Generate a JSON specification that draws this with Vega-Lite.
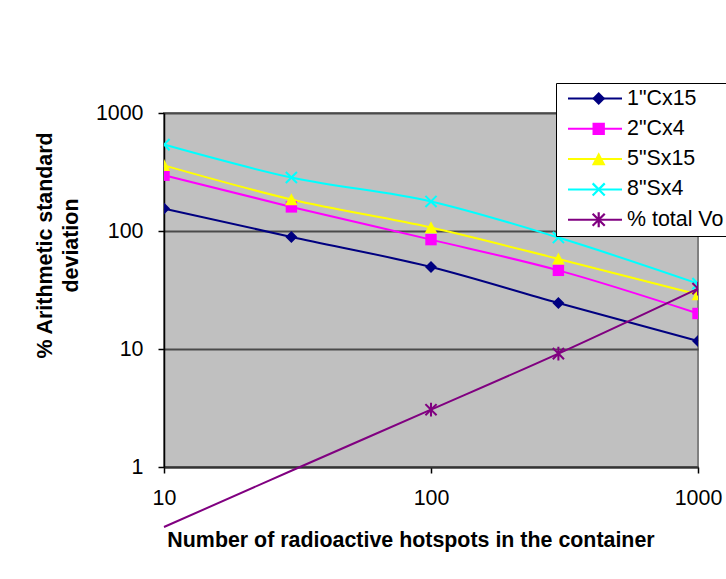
{
  "$schema": "https://vega.github.io/schema/vega-lite/v6.json",
  "width": 534,
  "height": 354,
  "autosize": "none",
  "padding": {"left": 164, "top": 113, "right": 28, "bottom": 112},
  "background": "white",
  "config": {
    "font": "Liberation Sans",
    "view": {"fill": "#C0C0C0", "stroke": "#808080", "strokeWidth": 2},
    "legend": {"strokeWidth": 1}
  },
  "data": {
    "values": [
      {"series": "1\"Cx15", "order": 1, "hotspots": 10, "value": 155},
      {"series": "1\"Cx15", "order": 1, "hotspots": 30, "value": 89},
      {"series": "1\"Cx15", "order": 1, "hotspots": 100, "value": 49.5},
      {"series": "1\"Cx15", "order": 1, "hotspots": 300, "value": 24.5},
      {"series": "1\"Cx15", "order": 1, "hotspots": 1000, "value": 11.7},
      {"series": "2\"Cx4", "order": 2, "hotspots": 10, "value": 297},
      {"series": "2\"Cx4", "order": 2, "hotspots": 30, "value": 160},
      {"series": "2\"Cx4", "order": 2, "hotspots": 100, "value": 84.5},
      {"series": "2\"Cx4", "order": 2, "hotspots": 300, "value": 46.4},
      {"series": "2\"Cx4", "order": 2, "hotspots": 1000, "value": 20},
      {"series": "5\"Sx15", "order": 3, "hotspots": 10, "value": 360},
      {"series": "5\"Sx15", "order": 3, "hotspots": 30, "value": 185},
      {"series": "5\"Sx15", "order": 3, "hotspots": 100, "value": 107},
      {"series": "5\"Sx15", "order": 3, "hotspots": 300, "value": 58},
      {"series": "5\"Sx15", "order": 3, "hotspots": 1000, "value": 29},
      {"series": "8\"Sx4", "order": 4, "hotspots": 10, "value": 540},
      {"series": "8\"Sx4", "order": 4, "hotspots": 30, "value": 284},
      {"series": "8\"Sx4", "order": 4, "hotspots": 100, "value": 178},
      {"series": "8\"Sx4", "order": 4, "hotspots": 300, "value": 88},
      {"series": "8\"Sx4", "order": 4, "hotspots": 1000, "value": 35.8},
      {"series": "% total Vo", "order": 5, "hotspots": 10, "value": 0.31},
      {"series": "% total Vo", "order": 5, "hotspots": 30, "value": 0.93},
      {"series": "% total Vo", "order": 5, "hotspots": 100, "value": 3.06},
      {"series": "% total Vo", "order": 5, "hotspots": 300, "value": 9.14},
      {"series": "% total Vo", "order": 5, "hotspots": 1000, "value": 32.5}
    ]
  },
  "layer": [
    {
      "mark": {"type": "line", "strokeWidth": 2, "clip": false, "interpolate": "monotone"},
      "encoding": {
        "x": {
          "field": "hotspots", "type": "quantitative",
          "scale": {"type": "log", "domain": [10, 1000], "nice": false},
          "axis": {
            "values": [10, 100, 1000], "format": "d", "grid": false, "labelFlush": false,
            "title": "Number of radioactive hotspots in the container",
            "titleFont": "Liberation Sans", "titleFontSize": 21.4, "titleFontWeight": "bold", "titleColor": "black",
            "titleX": 246.5, "titleY": 79, "titleBaseline": "alphabetic", "titleAlign": "center",
            "labelFont": "Liberation Sans", "labelFontSize": 21.4, "labelColor": "black", "labelPadding": 14,
            "tickSize": 6, "tickColor": "black", "tickWidth": 1.5,
            "domainColor": "#333333", "domainWidth": 2
          }
        },
        "y": {
          "field": "value", "type": "quantitative",
          "scale": {"type": "log", "domain": [1, 1000], "nice": false},
          "axis": {
            "values": [1, 10, 100, 1000], "format": "d",
            "grid": true, "gridColor": "#4a4a4a", "gridWidth": 2,
            "title": ["% Arithmetic standard", "deviation"],
            "titleFont": "Liberation Sans", "titleFontSize": 21.4, "titleFontWeight": "bold", "titleColor": "black",
            "titleLineHeight": 26, "titleAngle": -90, "titleX": -130, "titleY": 132,
            "titleAlign": "center", "titleBaseline": "top",
            "labelFont": "Liberation Sans", "labelFontSize": 21.4, "labelColor": "black", "labelPadding": 15,
            "tickSize": 6, "tickColor": "black", "tickWidth": 1.5,
            "domainColor": "black", "domainWidth": 1.5
          }
        },
        "stroke": {
          "field": "series", "type": "nominal",
          "scale": {
            "domain": ["1\"Cx15", "2\"Cx4", "5\"Sx15", "8\"Sx4", "% total Vo"],
            "range": ["#000080", "#FF00FF", "#FFFF00", "#00FFFF", "#800080"]
          },
          "legend": {
            "orient": "none", "legendX": 392, "legendY": -30, "title": null,
            "fillColor": "white", "strokeColor": "black",
            "padding": 5, "symbolOffset": 6, "symbolType": "stroke", "symbolSize": 2916, "symbolStrokeWidth": 2,
            "labelFont": "Liberation Sans", "labelFontSize": 21.4, "labelColor": "black", "labelOffset": 4, "labelLimit": 400,
            "rowPadding": 8.3, "clipHeight": 21, "zindex": 1
          }
        }
      }
    },
    {
      "transform": [{"filter": "datum.value >= 1"}],
      "mark": {"type": "point", "size": 144, "filled": true, "strokeWidth": 0, "opacity": 1, "fillOpacity": 1, "clip": true},
      "encoding": {
        "x": {"field": "hotspots", "type": "quantitative"},
        "y": {"field": "value", "type": "quantitative"},
        "shape": {
          "field": "series", "type": "nominal",
          "sort": {"field": "order", "op": "min"},
          "scale": {
            "range": [
              "M0,-1L1,0L0,1L-1,0Z",
              "M-0.95,-0.95L0.95,-0.95L0.95,0.95L-0.95,0.95Z",
              "M0,-1.05L1.05,0.95L-1.05,0.95Z",
              "M-0.81,-1.05L0,-0.24L0.81,-1.05L1.05,-0.81L0.24,0L1.05,0.81L0.81,1.05L0,0.24L-0.81,1.05L-1.05,0.81L-0.24,0L-1.05,-0.81Z",
              "M-0.81,-1.05L0,-0.24L0.81,-1.05L1.05,-0.81L0.24,0L1.05,0.81L0.81,1.05L0,0.24L-0.81,1.05L-1.05,0.81L-0.24,0L-1.05,-0.81ZM-0.17,-1.15L0.17,-1.15L0.17,1.15L-0.17,1.15Z"
            ]
          },
          "legend": {
            "orient": "none", "legendX": 419, "legendY": -30, "title": null,
            "fillColor": null, "strokeColor": null,
            "padding": 5, "symbolOffset": 0, "symbolSize": 169, "symbolStrokeWidth": 0,
            "labelFont": "Liberation Sans", "labelFontSize": 21.4, "labelExpr": "''", "labelOffset": 4, "labelLimit": 400,
            "rowPadding": 8.3, "clipHeight": 21, "zindex": 2
          }
        },
        "fill": {
          "field": "series", "type": "nominal",
          "sort": {"field": "order", "op": "min"},
          "scale": {"range": ["#000080", "#FF00FF", "#FFFF00", "#00FFFF", "#800080"]}
        }
      }
    }
  ]
}
